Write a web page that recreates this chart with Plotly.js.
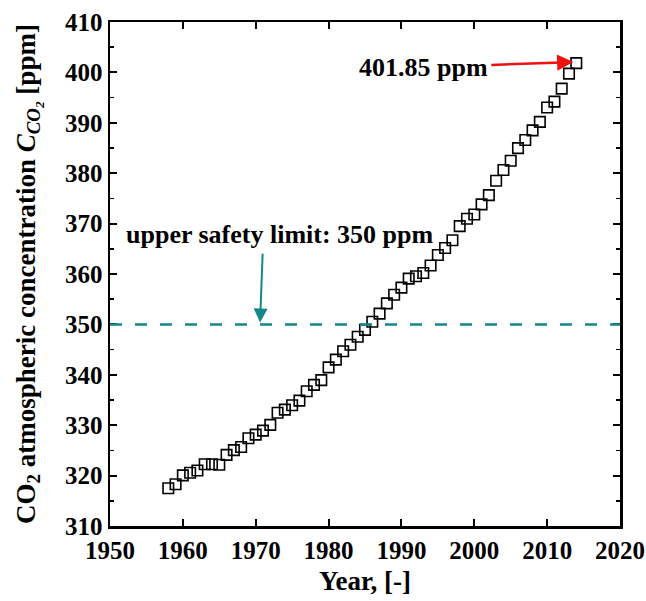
<!DOCTYPE html>
<html>
<head>
<meta charset="utf-8">
<script src="https://cdn.plot.ly/plotly-3.0.1.min.js"></script>
<style>
  html, body { margin: 0; padding: 0; background: #fff; }
  #chart { width: 646px; height: 601px; }
</style>
</head>
<body>
<div id="chart"></div>
<script>
// Mauna Loa CO2: highest monthly mean of each year, 1958-2014 (ppm)
const years = [
  1958, 1959, 1960, 1961, 1962, 1963, 1964, 1965, 1966, 1967,
  1968, 1969, 1970, 1971, 1972, 1973, 1974, 1975, 1976, 1977,
  1978, 1979, 1980, 1981, 1982, 1983, 1984, 1985, 1986, 1987,
  1988, 1989, 1990, 1991, 1992, 1993, 1994, 1995, 1996, 1997,
  1998, 1999, 2000, 2001, 2002, 2003, 2004, 2005, 2006, 2007,
  2008, 2009, 2010, 2011, 2012, 2013, 2014
];
const co2 = [
  317.50, 318.29, 320.04, 320.58, 321.01, 322.25, 322.24, 322.16, 324.12, 325.06,
  325.68, 327.42, 328.13, 328.92, 330.07, 332.48, 333.09, 333.97, 334.87, 336.74,
  338.01, 338.95, 341.48, 343.01, 344.67, 345.96, 347.55, 348.92, 350.53, 352.14,
  354.18, 355.89, 357.29, 359.09, 359.55, 360.19, 361.68, 363.77, 365.16, 366.69,
  369.49, 370.96, 371.82, 373.82, 375.65, 378.50, 380.63, 382.47, 384.98, 386.58,
  388.50, 390.19, 393.04, 394.21, 396.78, 399.76, 401.85
];
const safetyLimit = 350;
const xTicks = [1950, 1960, 1970, 1980, 1990, 2000, 2010, 2020];
const yTicks = [310, 320, 330, 340, 350, 360, 370, 380, 390, 400, 410];

const peakIdx = co2.length - 1;
const peakYear = years[peakIdx];
const peakValue = co2[peakIdx];

const serif = 'Liberation Serif, Times New Roman, serif';
const teal = '#14878a';

const trace = {
  x: years,
  y: co2,
  type: 'scatter',
  mode: 'markers',
  marker: {
    symbol: 'square-open',
    size: 10.5,
    color: '#000',
    line: { width: 1.6, color: '#000' }
  },
  hoverinfo: 'x+y'
};

const axisCommon = {
  showgrid: false,
  zeroline: false,
  showline: true,
  linecolor: '#000',
  linewidth: 2.5,
  mirror: 'ticks',
  ticks: 'inside',
  ticklen: 7,
  tickwidth: 2,
  tickcolor: '#000',
  tickfont: { family: serif, size: 25, color: '#000', weight: 'bold' }
};

const layout = {
  width: 646,
  height: 601,
  margin: { l: 110, r: 26, t: 22, b: 75 },
  paper_bgcolor: '#fff',
  plot_bgcolor: '#fff',
  showlegend: false,
  xaxis: Object.assign({}, axisCommon, {
    range: [1950, 2020],
    tickmode: 'array',
    tickvals: xTicks,
    ticktext: xTicks.map(String),
    title: {
      text: 'Year, [-]',
      font: { family: serif, size: 27, color: '#000', weight: 'bold' },
      standoff: 9
    }
  }),
  yaxis: Object.assign({}, axisCommon, {
    range: [310, 410],
    tickmode: 'array',
    tickvals: yTicks,
    ticktext: yTicks.map(String),
    minor: { dtick: 5, ticks: 'inside', ticklen: 4, tickwidth: 1.5, tickcolor: '#000', showgrid: false },
    title: {
      text: 'CO<sub>2</sub> atmospheric concentration <i>C</i><sub><i>CO<sub>2</sub></i></sub> [ppm]',
      font: { family: serif, size: 27, color: '#000', weight: 'bold' },
      standoff: 22
    }
  }),
  shapes: [
    {
      type: 'line',
      xref: 'paper', x0: 0, x1: 1,
      yref: 'y', y0: safetyLimit, y1: safetyLimit,
      line: { color: teal, width: 2.5, dash: '12px,13px' }
    }
  ],
  annotations: [
    {
      x: 1973.4, y: 367.8, xref: 'x', yref: 'y',
      text: 'upper safety limit: ' + safetyLimit + ' ppm',
      showarrow: false,
      font: { family: serif, size: 26, color: '#000', weight: 'bold' }
    },
    {
      x: 1970.6, y: safetyLimit + 0.4, xref: 'x', yref: 'y',
      ax: 1971.0, ay: 366.0, axref: 'x', ayref: 'y',
      text: ' ', showarrow: true,
      arrowhead: 2, arrowsize: 1.4, arrowwidth: 2, arrowcolor: teal,
      standoff: 0, startstandoff: 0
    },
    {
      // label centred at the arrow tail; the arrow starts at the label's edge
      x: peakYear - 0.4, y: peakValue + 0.2, xref: 'x', yref: 'y',
      ax: 1993.0, ay: 401.0, axref: 'x', ayref: 'y',
      text: peakValue.toFixed(2) + ' ppm',
      showarrow: true,
      arrowhead: 2, arrowsize: 1.3, arrowwidth: 2.5, arrowcolor: '#f01010',
      standoff: 0, startstandoff: 2,
      font: { family: serif, size: 26, color: '#000', weight: 'bold' }
    }
  ]
};

Plotly.newPlot('chart', [trace], layout, { displayModeBar: false, staticPlot: true });
</script>
</body>
</html>
